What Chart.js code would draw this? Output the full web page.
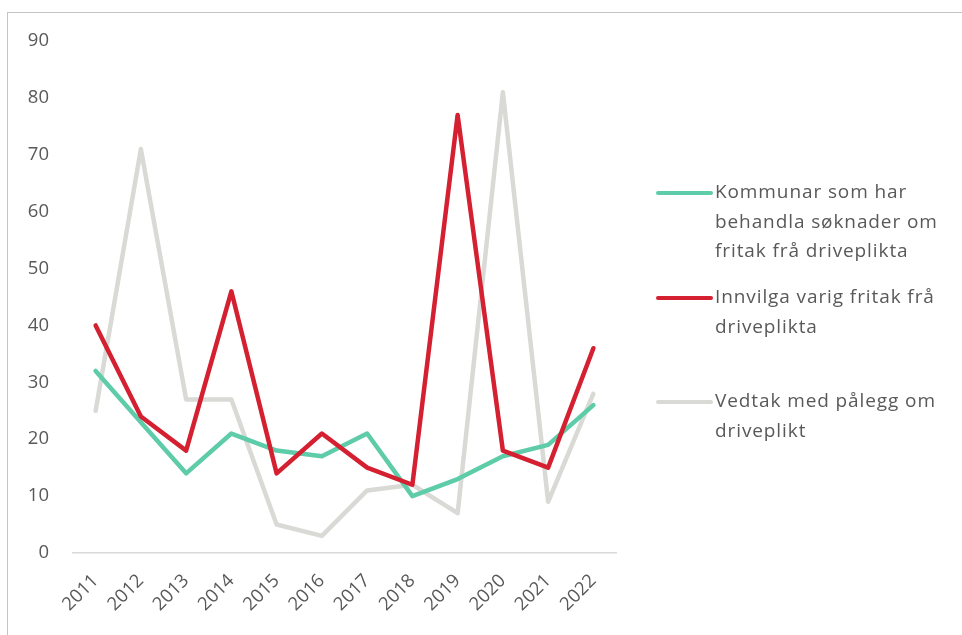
<!DOCTYPE html>
<html>
<head>
<meta charset="utf-8">
<script src="https://cdn.jsdelivr.net/npm/chart.js@4/dist/chart.umd.min.js"></script>
<style>
  html, body { margin: 0; padding: 0; background: #fff; overflow: hidden; }
  #wrap { position: relative; width: 962px; height: 635px; overflow: hidden; }
  #frame { position: absolute; left: 7px; top: 12px; width: 1100px; height: 800px; border: 1.5px solid #c4c4c4; box-sizing: border-box; }
  #c { position: absolute; left: 0; top: 0; }
  #legend { position: absolute; left: 656px; top: 0; font-family: "Open Sans", "Noto Sans", sans-serif; font-size: 19px; letter-spacing: 0.9px; color: #595959; }
  .item { position: absolute; left: 0; white-space: nowrap; }
  .swatch { position: absolute; left: 0; width: 57px; height: 4px; border-radius: 2px; }
  .txt { position: absolute; left: 59px; line-height: 29.5px; white-space: pre; }
</style>
</head>
<body>
<div id="wrap">
  <div id="frame"></div>
  <canvas id="c" width="962" height="635"></canvas>
  <div id="legend"></div>
</div>
<script>
const categories = ["2011","2012","2013","2014","2015","2016","2017","2018","2019","2020","2021","2022"];
const kommunar = [32, 23, 14, 21, 18, 17, 21, 10, 13, 17, 19, 26];
const innvilga = [40, 24, 18, 46, 14, 21, 15, 12, 77, 18, 15, 36];
const vedtak   = [25, 71, 27, 27, 5, 3, 11, 12, 7, 81, 9, 28];
const seriesNames = [
  ["Kommunar som har", "behandla søknader om", "fritak frå driveplikta"],
  ["Innvilga varig fritak frå", "driveplikta"],
  ["Vedtak med pålegg om", "driveplikt"]
];
const yTicks = [0, 10, 20, 30, 40, 50, 60, 70, 80, 90];
const colors = ["#5ECCA9", "#D42030", "#D9D9D5"];

const seriesData = [kommunar, innvilga, vedtak];
const datasets = seriesData.map((d, i) => ({
  label: seriesNames[i].join(" "),
  data: d,
  borderColor: colors[i],
  backgroundColor: colors[i],
  borderWidth: 4.5,
  borderJoinStyle: "round",
  borderCapStyle: "round",
  pointRadius: 0,
  tension: 0,
  fill: false
}));
datasets[0].order = 2;
datasets[1].order = 1;
datasets[2].order = 3;

const font = { family: "'Open Sans', 'Noto Sans', sans-serif", size: 18.5 };

new Chart(document.getElementById("c"), {
  type: "line",
  data: { labels: categories, datasets },
  options: {
    responsive: false,
    animation: false,
    devicePixelRatio: 1,
    layout: { padding: { top: 41, right: 346, left: 0, bottom: 0 } },
    plugins: { legend: { display: false }, tooltip: { enabled: false } },
    scales: {
      x: {
        offset: true,
        grid: { display: false, drawTicks: false },
        border: { display: true, color: "#d9d9d9", width: 1.5 },
        ticks: { color: "#595959", font, maxRotation: 45, minRotation: 45, padding: 17, autoSkip: false },
        afterFit: s => { s.height = 82; }
      },
      y: {
        min: 0, max: 90,
        afterBuildTicks: s => { s.ticks = yTicks.map(v => ({ value: v })); },
        grid: { display: false, drawTicks: false },
        border: { display: false },
        ticks: { color: "#595959", font, padding: 24 },
        afterFit: s => { s.width = 73; }
      }
    }
  }
});

const legendTops = [193, 298, 402];
const leg = document.getElementById("legend");
seriesNames.forEach((lines, i) => {
  const item = document.createElement("div");
  item.className = "item";
  item.style.top = legendTops[i] + "px";
  const sw = document.createElement("div");
  sw.className = "swatch";
  sw.style.background = colors[i];
  sw.style.top = "-2px";
  const tx = document.createElement("div");
  tx.className = "txt";
  tx.style.top = "-16px";
  tx.textContent = lines.join("\n");
  item.appendChild(sw);
  item.appendChild(tx);
  leg.appendChild(item);
});
</script>
</body>
</html>
